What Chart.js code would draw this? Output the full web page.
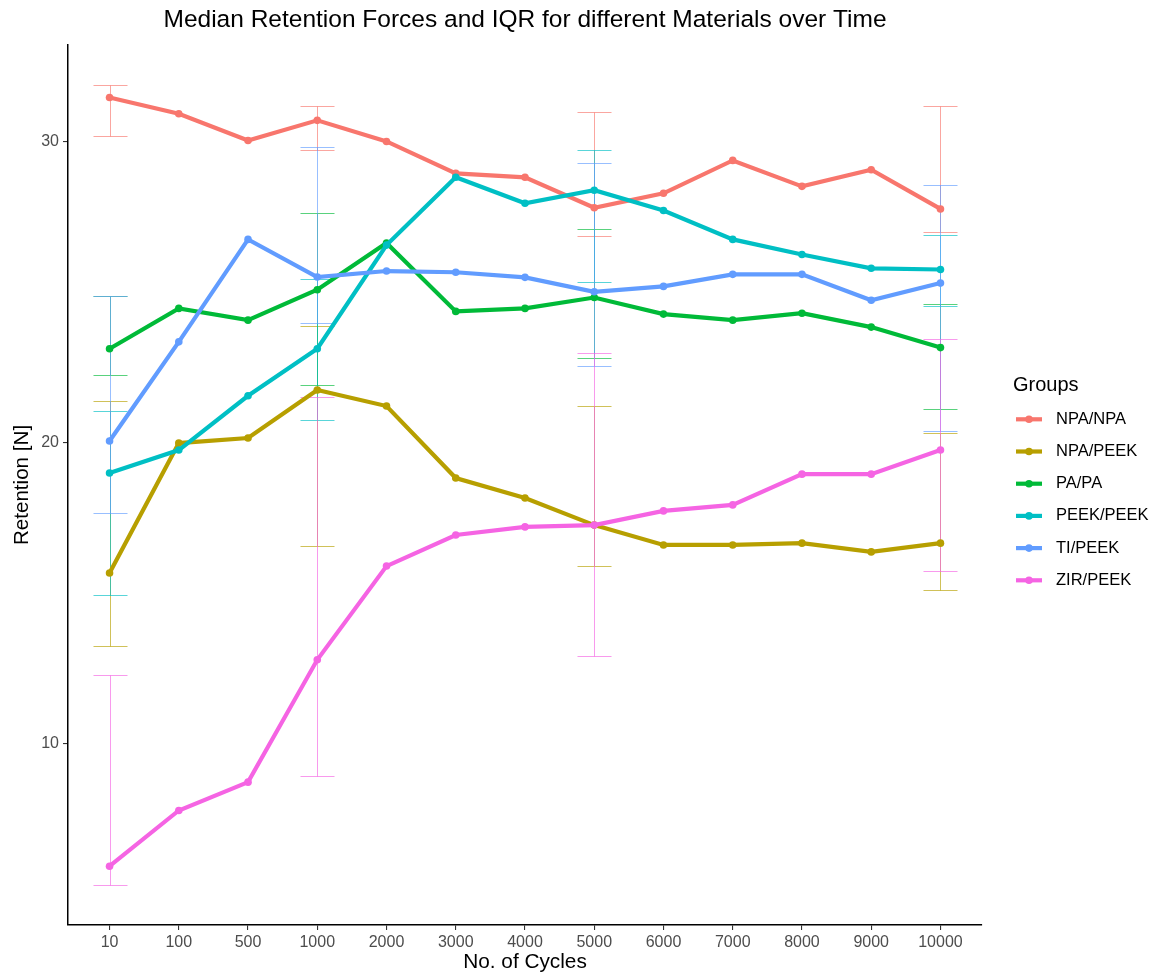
<!DOCTYPE html>
<html>
<head>
<meta charset="utf-8">
<script src="https://cdn.jsdelivr.net/npm/chart.js@4/dist/chart.umd.min.js"></script>
<style>
  html, body { margin: 0; padding: 0; background: #ffffff; }
</style>
</head>
<body>
<canvas id="chart" width="1153" height="975"></canvas>
<script>
// Cycle counts on the x axis (categorical)
const cycles = ['10', '100', '500', '1000', '2000', '3000', '4000', '5000', '6000', '7000', '8000', '9000', '10000'];

// Group names and their colours
const groups = ['NPA/NPA', 'NPA/PEEK', 'PA/PA', 'PEEK/PEEK', 'TI/PEEK', 'ZIR/PEEK'];
const groupColors = ['#F8766D', '#B79F00', '#00BA38', '#00BFC4', '#619CFF', '#F564E3'];

// Median retention force [N] per group and cycle count
const medianNpaNpa   = [31.45, 30.91, 30.02, 30.69, 29.99, 28.93, 28.80, 27.79, 28.27, 29.36, 28.50, 29.05, 27.75];
const medianNpaPeek  = [15.67, 19.98, 20.15, 21.74, 21.21, 18.82, 18.16, 17.26, 16.60, 16.60, 16.66, 16.37, 16.66];
const medianPaPa     = [23.11, 24.45, 24.06, 25.07, 26.62, 24.35, 24.45, 24.81, 24.26, 24.06, 24.29, 23.83, 23.15];
const medianPeekPeek = [18.99, 19.75, 21.55, 23.11, 26.55, 28.80, 27.94, 28.37, 27.70, 26.74, 26.24, 25.78, 25.74];
const medianTiPeek   = [20.05, 23.34, 26.74, 25.49, 25.69, 25.65, 25.48, 25.00, 25.18, 25.58, 25.58, 24.72, 25.29];
const medianZirPeek  = [5.94, 7.79, 8.73, 12.79, 15.90, 16.93, 17.20, 17.26, 17.73, 17.93, 18.95, 18.95, 19.75];

// Cycle counts at which the interquartile range was measured
const iqrCycles = ['10', '1000', '5000', '10000'];

// Lower (Q1) and upper (Q3) quartiles per group at those cycle counts
const q1NpaNpa   = [30.17, 29.71, 26.84, 27.00];
const q3NpaNpa   = [31.86, 31.16, 30.98, 31.16];
const q1NpaPeek  = [13.24, 16.58, 15.89, 15.11];
const q3NpaPeek  = [21.39, 23.87, 21.22, 20.30];
const q1PaPa     = [22.23, 21.90, 22.79, 21.10];
const q3PaPa     = [24.85, 27.63, 27.07, 24.60];
const q1PeekPeek = [14.94, 20.74, 25.32, 24.54];
const q3PeekPeek = [21.03, 25.41, 29.71, 26.90];
const q1TiPeek   = [17.67, 23.95, 22.53, 20.39];
const q3TiPeek   = [24.85, 29.80, 29.27, 28.56];
const q1ZirPeek  = [5.32, 8.92, 12.92, 15.75];
const q3ZirPeek  = [12.27, 21.51, 22.97, 23.42];

// Y axis tick values
const yTicks = [10, 20, 30];

const medians = [medianNpaNpa, medianNpaPeek, medianPaPa, medianPeekPeek, medianTiPeek, medianZirPeek];
const lowers  = [q1NpaNpa, q1NpaPeek, q1PaPa, q1PeekPeek, q1TiPeek, q1ZirPeek];
const uppers  = [q3NpaNpa, q3NpaPeek, q3PaPa, q3PeekPeek, q3TiPeek, q3ZirPeek];

const FONT = "'Liberation Sans', Arial, Helvetica, sans-serif";

function withAlpha(hex, a) {
  const n = parseInt(hex.slice(1), 16);
  return `rgba(${(n >> 16) & 255}, ${(n >> 8) & 255}, ${n & 255}, ${a})`;
}

// IQR error bars, drawn underneath the median lines
const iqrBars = {
  id: 'iqrBars',
  beforeDatasetsDraw(chart) {
    const { ctx, scales: { x, y } } = chart;
    const capHalf = 17;
    const snap = (v) => Math.round(v) + 0.5;
    ctx.save();
    ctx.lineWidth = 1;
    groups.forEach((g, gi) => {
      ctx.strokeStyle = withAlpha(groupColors[gi], 0.65);
      iqrCycles.forEach((c, k) => {
        const px = snap(x.getPixelForValue(cycles.indexOf(c)));
        const yLo = snap(y.getPixelForValue(lowers[gi][k]));
        const yHi = snap(y.getPixelForValue(uppers[gi][k]));
        ctx.beginPath();
        ctx.moveTo(px, yHi); ctx.lineTo(px, yLo);
        ctx.moveTo(px - capHalf, yHi); ctx.lineTo(px + capHalf, yHi);
        ctx.moveTo(px - capHalf, yLo); ctx.lineTo(px + capHalf, yLo);
        ctx.stroke();
      });
    });
    ctx.restore();
  }
};

// Legend on the right with a line-and-dot key for each group
const groupLegend = {
  id: 'groupLegend',
  afterDraw(chart) {
    const { ctx } = chart;
    ctx.save();
    ctx.textBaseline = 'middle';
    ctx.textAlign = 'left';
    ctx.fillStyle = '#000000';
    ctx.font = `20px ${FONT}`;
    ctx.fillText('Groups', 1013, 385);
    ctx.font = `16.5px ${FONT}`;
    groups.forEach((g, i) => {
      const cy = 419.3 + i * 32.2;
      ctx.strokeStyle = groupColors[i];
      ctx.lineWidth = 4.2;
      ctx.beginPath();
      ctx.moveTo(1016, cy); ctx.lineTo(1042, cy);
      ctx.stroke();
      ctx.fillStyle = groupColors[i];
      ctx.beginPath();
      ctx.arc(1029, cy, 3.8, 0, Math.PI * 2);
      ctx.fill();
      ctx.fillStyle = '#000000';
      ctx.fillText(g, 1056, cy);
    });
    ctx.restore();
  }
};

const datasets = groups.map((g, i) => ({
  label: g,
  data: medians[i].map((v, j) => ({ x: j, y: v })),
  borderColor: groupColors[i],
  backgroundColor: groupColors[i],
  borderWidth: 4.2,
  pointRadius: 3.8,
  pointBorderWidth: 0,
  pointHoverRadius: 3.8,
  tension: 0,
  order: -i
}));

new Chart(document.getElementById('chart'), {
  type: 'line',
  data: { datasets },
  options: {
    responsive: false,
    animation: false,
    events: [],
    layout: { padding: { left: 0, right: 171, top: 0, bottom: 0 } },
    plugins: {
      legend: { display: false },
      tooltip: { enabled: false },
      title: {
        display: true,
        fullSize: false,
        text: 'Median Retention Forces and IQR for different Materials over Time',
        color: '#000000',
        font: { family: FONT, size: 24.5, weight: 'normal' },
        padding: { top: 5.3, bottom: 10.3 }
      }
    },
    scales: {
      x: {
        type: 'linear',
        min: -0.6,
        max: 12.6,
        afterBuildTicks: (s) => { s.ticks = cycles.map((c, i) => ({ value: i })); },
        afterFit: (s) => { s.height = 50; },
        ticks: {
          autoSkip: false,
          maxRotation: 0,
          padding: 3,
          color: '#4d4d4d',
          font: { family: FONT, size: 16 },
          callback: (v) => cycles[v]
        },
        grid: { display: true, drawOnChartArea: false, drawTicks: true, tickLength: 5, color: '#333333', lineWidth: 1.1 },
        border: { display: true, color: '#000000', width: 1.5 },
        title: {
          display: true,
          text: 'No. of Cycles',
          color: '#000000',
          font: { family: FONT, size: 20.8 },
          padding: { top: 0, bottom: 0 }
        }
      },
      y: {
        type: 'linear',
        min: 3.99,
        max: 33.19,
        afterBuildTicks: (s) => { s.ticks = yTicks.map(v => ({ value: v })); },
        afterFit: (s) => { s.width = 68; },
        ticks: {
          padding: 4,
          color: '#4d4d4d',
          font: { family: FONT, size: 16 }
        },
        grid: { display: true, drawOnChartArea: false, drawTicks: true, tickLength: 5, color: '#333333', lineWidth: 1.1 },
        border: { display: true, color: '#000000', width: 1.5 },
        title: {
          display: true,
          text: 'Retention [N]',
          color: '#000000',
          font: { family: FONT, size: 20.6 },
          padding: { top: 10, bottom: 0 }
        }
      }
    }
  },
  plugins: [iqrBars, groupLegend]
});
</script>
</body>
</html>
